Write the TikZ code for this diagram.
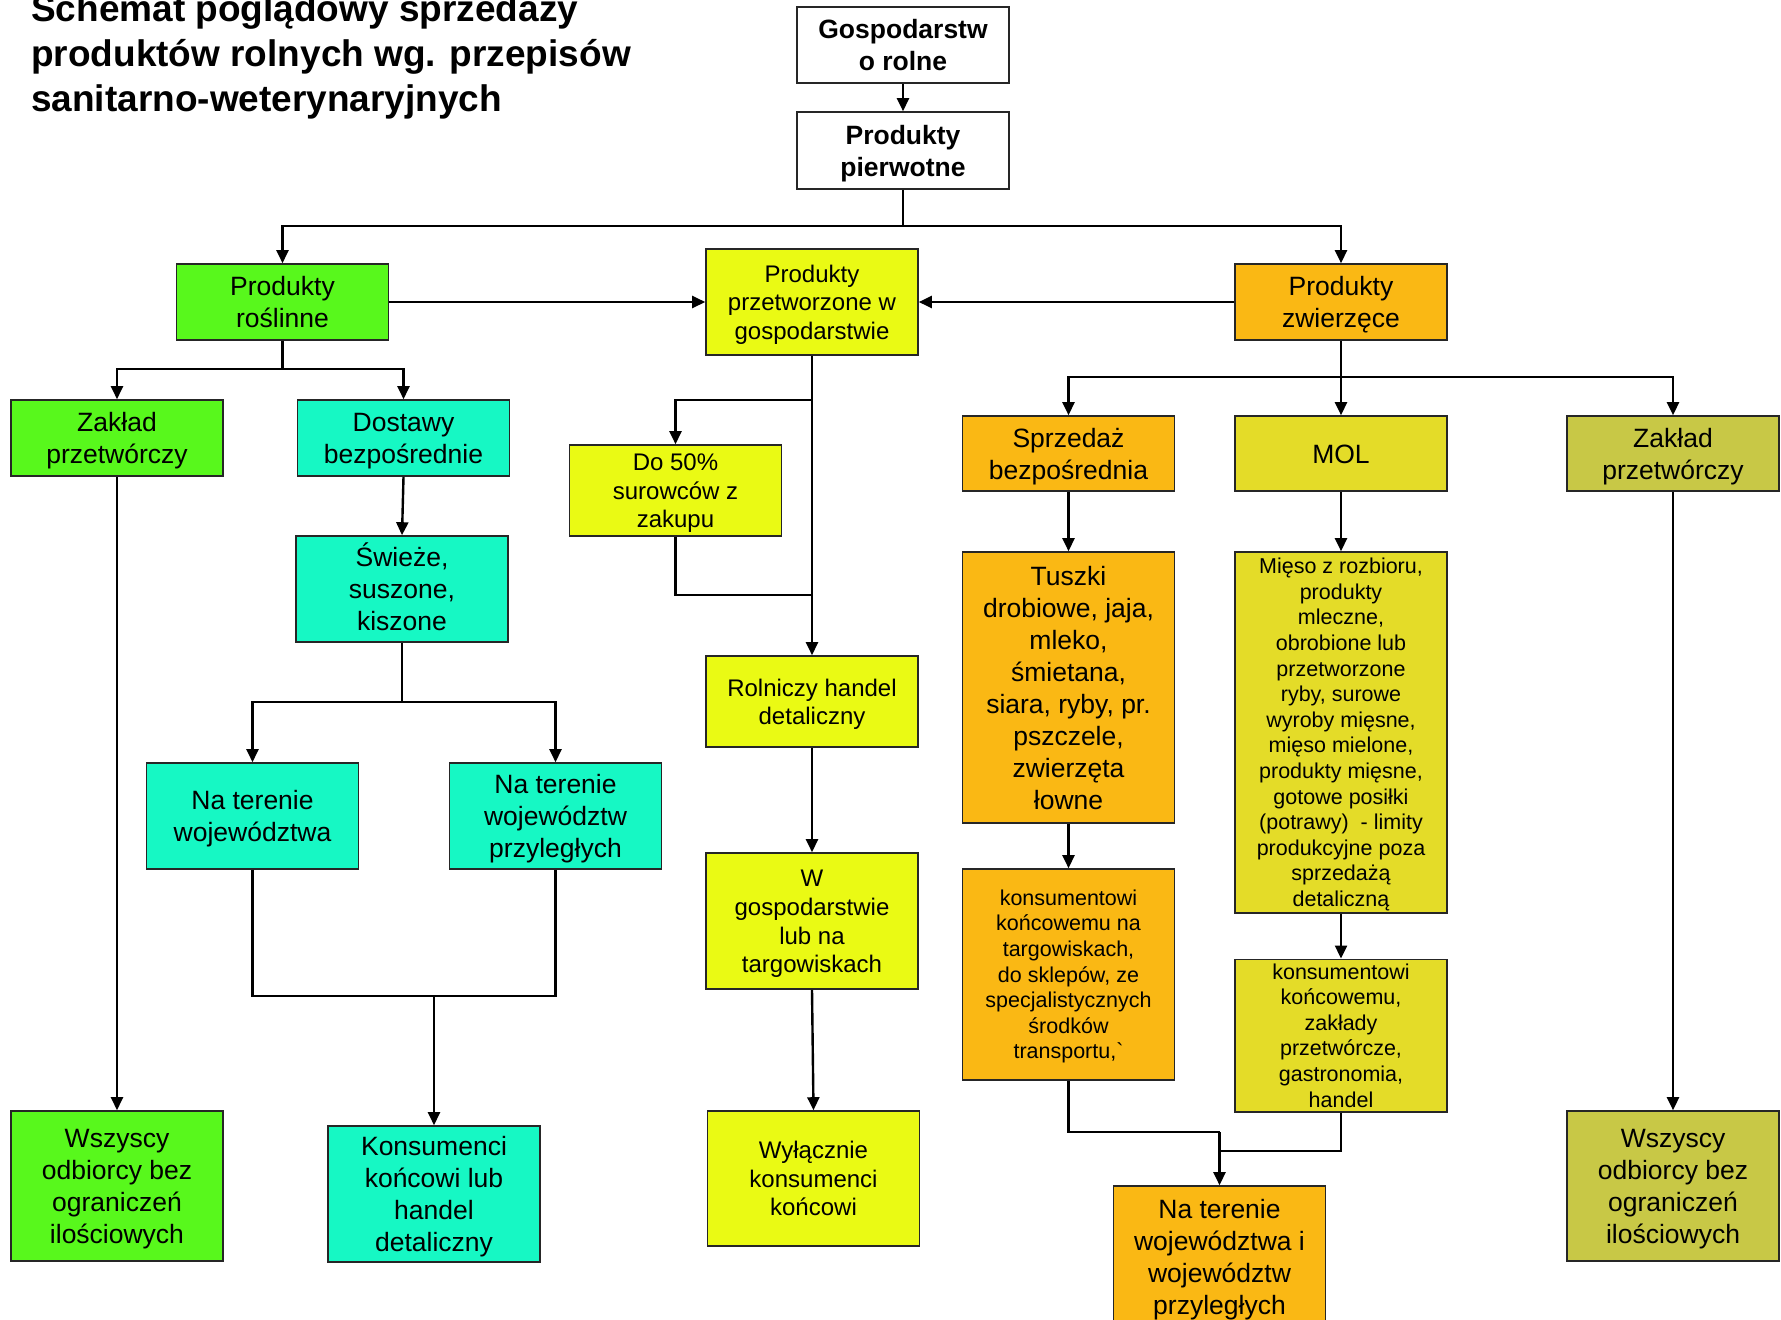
\documentclass[tikz,border=0pt]{standalone}
\usepackage{fontspec}
\setmainfont{Liberation Sans}
\usetikzlibrary{arrows.meta}
\definecolor{cgreen}{RGB}{88,248,28}
\definecolor{ccyan}{RGB}{22,248,196}
\definecolor{cyel}{RGB}{234,250,20}
\definecolor{corange}{RGB}{250,184,20}
\definecolor{cmol}{RGB}{228,220,40}
\definecolor{colive}{RGB}{200,200,70}
\newcommand{\szA}{\fontsize{26.5pt}{32pt}\selectfont}
\newcommand{\szB}{\fontsize{24pt}{28.6pt}\selectfont}
\newcommand{\szC}{\fontsize{21.5pt}{25.6pt}\selectfont}
\newcommand{\szD}{\fontsize{26.5pt}{32pt}\selectfont\bfseries}
\newcommand{\szT}{\fontsize{37pt}{45pt}\selectfont\bfseries}
% struts fixing first-line height and last-line depth
\newcommand{\sA}{\rule{0pt}{25.6pt}}
\newcommand{\eA}{\rule[-6.6pt]{0pt}{0pt}}
\newcommand{\sB}{\rule{0pt}{23.6pt}}
\newcommand{\eB}{\rule[-6pt]{0pt}{0pt}}
\newcommand{\sC}{\rule{0pt}{19.7pt}}
\newcommand{\eC}{\rule[-4.7pt]{0pt}{0pt}}
\begin{document}
\begin{tikzpicture}[x=1pt,y=-1pt,
  box/.style={draw=black!85, line width=1.6pt, minimum width=212pt, inner xsep=2pt, inner ysep=0pt, align=center, text=black},
  bA/.style={box, font=\szA},
  bB/.style={box, font=\szB},
  bC/.style={box, font=\szC},
  bD/.style={box, font=\szD, fill=white},
  conn/.style={line width=2.4pt, draw=black},
  arr/.style={conn, -{Triangle[width=12pt,length=13pt]}}]
\useasboundingbox (0,0) rectangle (1781,1320);
\fill[white] (0,0) rectangle (1781,1320);

% title
\node[anchor=north west, inner sep=0pt, align=left, font=\szT] (title) at (31,-6)
  {Schemat poglądowy sprzedazy\\produktów rolnych wg. przepisów\\sanitarno-weterynaryjnych};

% top
\node[bD, minimum height=76pt] (gosp) at (903,45) {\sA Gospodarstw\\o rolne\eA};
\node[bD, minimum height=77pt] (pierw) at (903,150.5) {\sA Produkty\\pierwotne\eA};

% second row
\node[bA, fill=cgreen, minimum height=76pt] (rosl) at (282.5,302) {\sA Produkty\\roślinne\eA};
\node[bB, fill=cyel, minimum height=106pt] (przetw) at (812,302) {\sB Produkty\\przetworzone w\\gospodarstwie\eB};
\node[bA, fill=corange, minimum height=76pt] (zwierz) at (1341,302) {\sA Produkty\\zwierzęce\eA};

% third row
\node[bA, fill=cgreen, minimum height=76pt] (zakL) at (117,438) {\sA Zakład\\przetwórczy\eA};
\node[bA, fill=ccyan, minimum height=76pt] (dost) at (403.5,438) {\sA Dostawy\\bezpośrednie\eA};
\node[bB, fill=cyel, minimum height=91pt] (do50) at (675.5,490.5) {\sB Do 50\%\\surowców z\\zakupu\eB};
\node[bA, fill=corange, minimum height=75pt] (sprz) at (1068.5,453.5) {\sA Sprzedaż\\bezpośrednia\eA};
\node[bA, fill=cmol, minimum height=75pt] (mol) at (1341,453.5) {\sA MOL\eA};
\node[bA, fill=colive, minimum height=75pt] (zakR) at (1673,453.5) {\sA Zakład\\przetwórczy\eA};

% middle
\node[bA, fill=ccyan, minimum height=106pt] (swieze) at (402,589) {\sA Świeże,\\suszone,\\kiszone\eA};
\node[bA, fill=corange, minimum height=271pt] (tuszki) at (1068.5,687.5) {\sA Tuszki\\drobiowe, jaja,\\mleko,\\śmietana,\\siara, ryby, pr.\\pszczele,\\zwierzęta\\łowne\eA};
\node[bC, fill=cmol, minimum height=361pt] (mieso) at (1341,732.5) {\sC Mięso z rozbioru,\\produkty\\mleczne,\\obrobione lub\\przetworzone\\ryby, surowe\\wyroby mięsne,\\mięso mielone,\\produkty mięsne,\\gotowe posiłki\\(potrawy)\ \ - limity\\produkcyjne poza\\sprzedażą\\detaliczną\eC};
\node[bB, fill=cyel, minimum height=91pt] (rolniczy) at (812,701.5) {\sB Rolniczy handel\\detaliczny\eB};
\node[bA, fill=ccyan, minimum height=106pt] (naterL) at (252.5,816) {\sA Na terenie\\województwa\eA};
\node[bA, fill=ccyan, minimum height=106pt] (naterP) at (555.5,816) {\sA Na terenie\\województw\\przyległych\eA};
\node[bB, fill=cyel, minimum height=136pt] (wgosp) at (812,921) {\sB W\\gospodarstwie\\lub na\\targowiskach\eB};
\node[bC, fill=corange, minimum height=211pt] (konsT) at (1068.5,974.5) {\sC konsumentowi\\końcowemu na\\targowiskach,\\do sklepów, ze\\specjalistycznych\\środków\\transportu,\textasciigrave\eC};
\node[bC, fill=cmol, minimum height=151pt] (konsM) at (1341,1035.5) {\sC konsumentowi\\końcowemu,\\zakłady\\przetwórcze,\\gastronomia,\\handel\eC};

% bottom
\node[bA, fill=cgreen, minimum height=150pt] (wszL) at (117,1186) {\sA Wszyscy\\odbiorcy bez\\ograniczeń\\ilościowych\eA};
\node[bA, fill=ccyan, minimum height=136pt] (konsum) at (434,1194) {\sA Konsumenci\\końcowi lub\\handel\\detaliczny\eA};
\node[bB, fill=cyel, minimum height=135pt] (wylacz) at (813.5,1178.5) {\sB Wyłącznie\\konsumenci\\końcowi\eB};
\node[bA, fill=corange, minimum height=141pt] (naterW) at (1219.5,1256.5) {\sA Na terenie\\województwa i\\województw\\przyległych\eA};
\node[bA, fill=colive, minimum height=150pt] (wszR) at (1673,1186) {\sA Wszyscy\\odbiorcy bez\\ograniczeń\\ilościowych\eA};

% junction coordinates
\coordinate (j1) at (903,226);
\coordinate (j2) at (282.5,369);
\coordinate (j3) at (812,400);
\coordinate (j4) at (812,595);
\coordinate (j5) at (402,702);
\coordinate (j6) at (434,996);
\coordinate (j7) at (1341,377);
\coordinate (j8) at (1219.5,1132);
\coordinate (j9) at (1219.5,1151);

% connectors
\draw[arr] (gosp) -- (pierw);
\draw[conn] (pierw.south) -- (j1);
\draw[arr] (j1) -| (rosl.north);
\draw[arr] (j1) -| (zwierz.north);
\draw[arr] (rosl) -- (przetw);
\draw[arr] (zwierz) -- (przetw);

\draw[conn] (rosl.south) -- (j2);
\draw[arr] (j2) -| (zakL.north);
\draw[arr] (j2) -| (dost.north);

\draw[arr] (przetw.south) -- (rolniczy.north);
\draw[arr] (j3) -| (do50.north);
\draw[conn] (do50.south) |- (j4);

\draw[arr] (dost.south) -- (swieze.north);
\draw[conn] (swieze.south) -- (j5);
\draw[arr] (j5) -| (naterL.north);
\draw[arr] (j5) -| (naterP.north);
\draw[conn] (naterL.south) |- (j6);
\draw[conn] (naterP.south) |- (j6);
\draw[arr] (j6) -- (konsum.north);

\draw[arr] (zakL) -- (wszL);

\draw[arr] (rolniczy) -- (wgosp);
\draw[arr] (wgosp.south) -- (wylacz.north);

\draw[conn] (zwierz.south) -- (j7);
\draw[arr] (j7) -| (sprz.north);
\draw[arr] (j7) -- (mol.north);
\draw[arr] (j7) -| (zakR.north);

\draw[arr] (sprz) -- (tuszki);
\draw[arr] (tuszki) -- (konsT);
\draw[arr] (mol) -- (mieso);
\draw[arr] (mieso) -- (konsM);
\draw[conn] (konsT.south) |- (j8);
\draw[conn] (konsM.south) |- (j9);
\draw[arr] (j8) -- (naterW.north);

\draw[arr] (zakR) -- (wszR);
\end{tikzpicture}
\end{document}
